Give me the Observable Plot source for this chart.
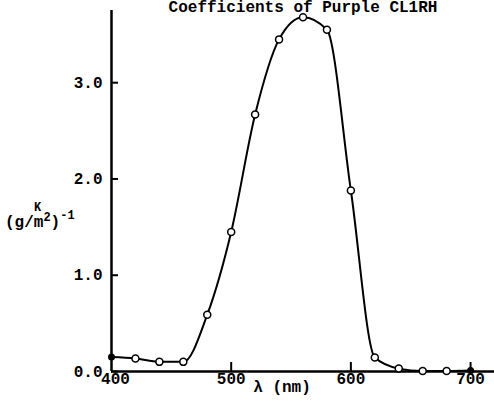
<!DOCTYPE html>
<html><head><meta charset="utf-8">
<script src="https://cdn.jsdelivr.net/npm/d3@7"></script>
<script src="https://cdn.jsdelivr.net/npm/@observablehq/plot@0.6"></script>
<style>body{margin:0;background:#fff}</style>
</head><body><div id="chart"></div>
<script>
const wavelengths = [400, 420, 440, 460, 480, 500, 520, 540, 560, 580, 600, 620, 640, 660, 680, 700];
const coefficients = [0.15, 0.135, 0.10, 0.10, 0.59, 1.45, 2.67, 3.45, 3.68, 3.55, 1.88, 0.145, 0.03, 0.005, 0.005, 0.01];
const filledAt = [400, 700];
const yTicks = [0, 1, 2, 3];
const xTicks = [500, 600, 700];
const firstXTick = [400];
const title = "Coefficients of Purple CL1RH";
const xLabel = "λ (nm)";

const data = wavelengths.map((w, i) => ({w, k: coefficients[i]}));
const font = "'Liberation Mono', 'Courier New', monospace";

const svg = Plot.plot({
  width: 494, height: 404,
  marginLeft: 111, marginRight: 0, marginTop: 10, marginBottom: 33,
  x: {domain: [400, 720]},
  y: {domain: [0, 3.75]},
  style: {fontFamily: font, fontSize: "16px", fontWeight: "bold", background: "#fff", color: "#000"},
  marks: [
    Plot.line(data, {x: "w", y: "k", curve: "monotone-x", stroke: "#000", strokeWidth: 2}),
    Plot.ruleY([0], {stroke: "#000", strokeWidth: 2.5}),
    Plot.ruleX([400], {stroke: "#000", strokeWidth: 2.5}),
    Plot.axisY({ticks: yTicks, tickSize: -7, tickPadding: 16, tickFormat: d3.format(".1f"), label: null, strokeWidth: 2}),
    Plot.axisX({ticks: xTicks, tickSize: -9, tickPadding: 10, tickFormat: d => String(d), label: null, strokeWidth: 2}),
    Plot.text(firstXTick, {x: d => d, y: () => 0, text: d => String(d), dx: 4, dy: 1, lineAnchor: "top"}),
    Plot.dot(data.filter(d => !filledAt.includes(d.w)), {x: "w", y: "k", r: 3.5, fill: "#fff", stroke: "#000", strokeWidth: 1.5}),
    Plot.dot(data.filter(d => filledAt.includes(d.w)), {x: "w", y: "k", r: 3.5, fill: "#000"}),
    Plot.text([title], {frameAnchor: "top", lineAnchor: "middle", dy: -4}),
    Plot.text([xLabel], {frameAnchor: "bottom", lineAnchor: "middle", dx: -21, dy: 15})
  ]
});

// y-axis unit label with superscripts
const s = d3.select(svg);
const lab = s.append("g").attr("font-family", font).attr("font-weight", "bold")
  .attr("fill", "#000").attr("text-anchor", "start");
lab.append("text").attr("x", 34).attr("y", 211).attr("font-size", 12).text("K");
const t = lab.append("text").attr("x", 5).attr("y", 227).attr("font-size", 16);
t.append("tspan").text("(g/m");
t.append("tspan").attr("font-size", 12).attr("dy", -6).text("2");
t.append("tspan").attr("dy", 6).text(")");
t.append("tspan").attr("font-size", 12).attr("dy", -8).text("-1");

document.getElementById("chart").appendChild(svg);
</script>
</body></html>
